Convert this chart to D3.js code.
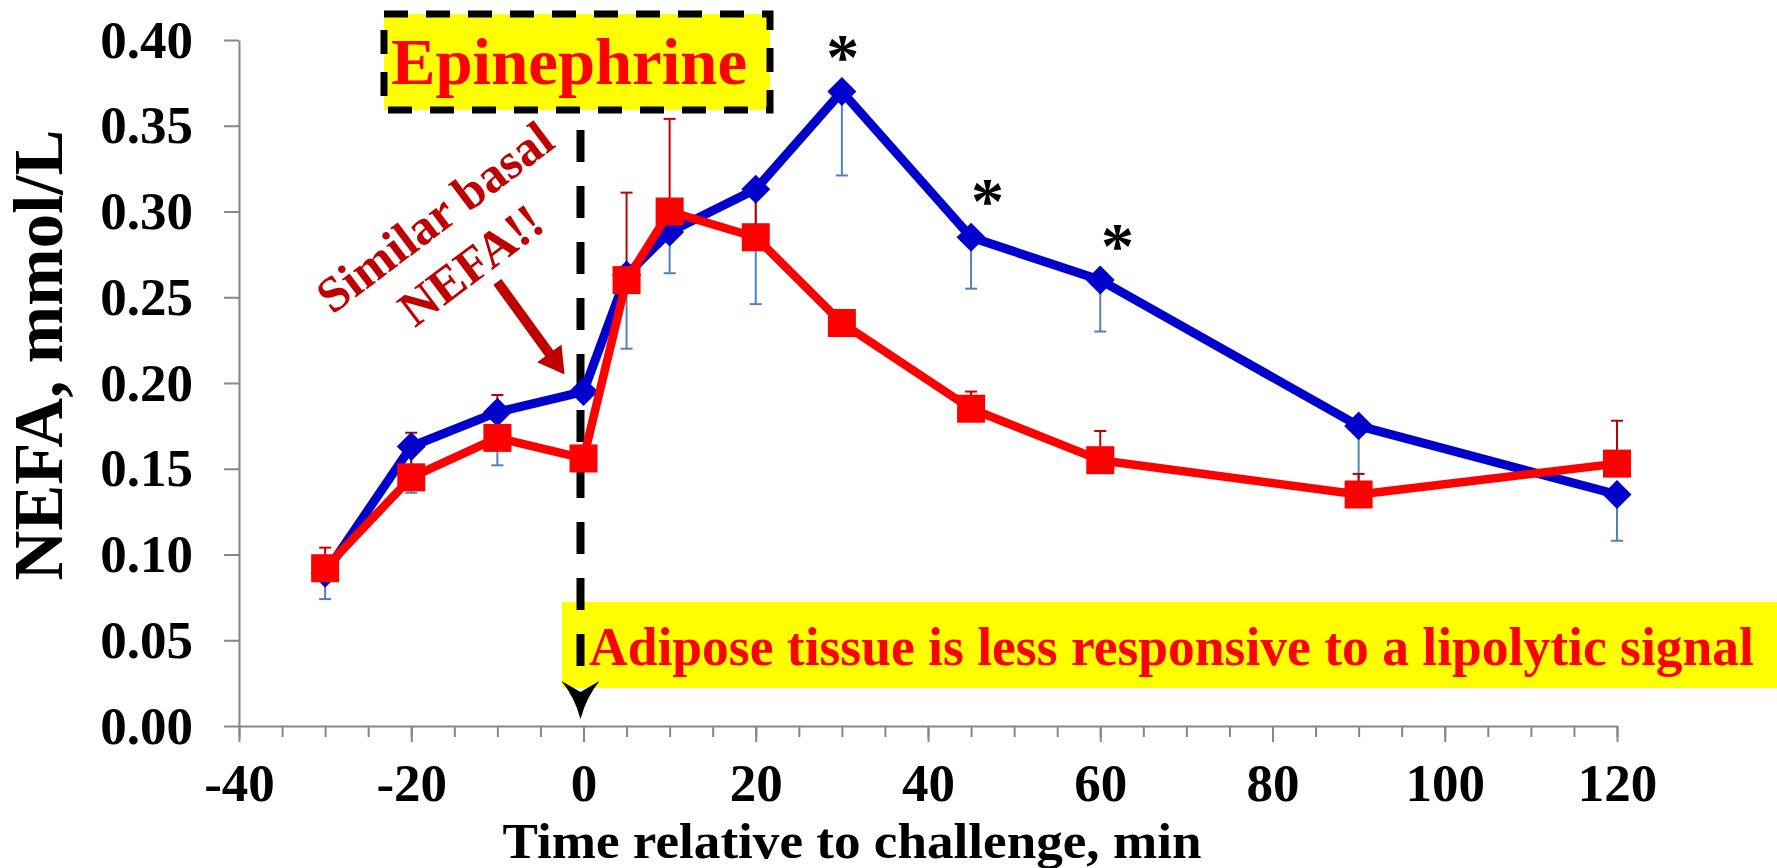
<!DOCTYPE html>
<html>
<head>
<meta charset="utf-8">
<script src="https://cdn.jsdelivr.net/npm/d3@7"></script>
<style>
  body { margin: 0; background: #fff; }
  svg text { font-family: "Liberation Serif", "Times New Roman", serif; font-weight: bold; }
</style>
</head>
<body>
<svg id="chart"></svg>
<script>
// time points (min) and NEFA means / SEs for the two groups
var times = [-30, -20, -10, 0, 5, 10, 20, 30, 45, 60, 90, 120];
var blueVals = [0.089, 0.163, 0.183, 0.195, 0.263, 0.288, 0.313, 0.370, 0.285, 0.260, 0.175, 0.135];
var blueErr  = [0.015, 0.027, 0.031, 0.000, 0.043, 0.024, 0.067, 0.049, 0.030, 0.030, 0.035, 0.027];
var redVals  = [0.092, 0.145, 0.168, 0.156, 0.260, 0.300, 0.285, 0.235, 0.185, 0.155, 0.135, 0.153];
var redErr   = [0.012, 0.026, 0.025, 0.000, 0.051, 0.054, 0.025, 0.000, 0.010, 0.017, 0.012, 0.025];

var yTicks = [0, 0.05, 0.10, 0.15, 0.20, 0.25, 0.30, 0.35, 0.40];
var xTicks = [-40, -20, 0, 20, 40, 60, 80, 100, 120];
var xMinorTicks = d3.range(-40, 121, 5);

// significance stars (time, value where the star sits)
var sigMarks = [{t: 30.1, v: 0.397}, {t: 46.9, v: 0.313}, {t: 62, v: 0.287}];

var width = 1777, height = 868;
var svg = d3.select('#chart')
  .attr('width', width)
  .attr('height', height);

svg.append('rect').attr('width', width).attr('height', height).attr('fill', '#fff');

var x = d3.scaleLinear().domain([-40, 120]).range([239, 1617]);
var y = d3.scaleLinear().domain([0, 0.40]).range([726, 40]);

var axisColor = '#868686';

// y axis
var yAxis = svg.append('g')
  .attr('transform', 'translate(' + x(-40) + ',0)')
  .call(d3.axisLeft(y).tickValues(yTicks).tickSize(15).tickSizeOuter(0)
    .tickFormat(d3.format('.2f')));
yAxis.selectAll('path, line').attr('stroke', axisColor).attr('stroke-width', 2);
yAxis.selectAll('text')
  .attr('x', -46)
  .attr('dy', null)
  .attr('y', 17)
  .attr('fill', '#000')
  .style('font-size', '53px');

// x axis, minor then major ticks
var xMinor = svg.append('g')
  .attr('transform', 'translate(0,' + y(0) + ')')
  .call(d3.axisBottom(x).tickValues(xMinorTicks).tickSize(11).tickSizeOuter(0));
xMinor.selectAll('text').remove();
xMinor.selectAll('path, line').attr('stroke', axisColor).attr('stroke-width', 2);

var xAxis = svg.append('g')
  .attr('transform', 'translate(0,' + y(0) + ')')
  .call(d3.axisBottom(x).tickValues(xTicks).tickSize(16).tickSizeOuter(0)
    .tickFormat(function(d) { return String(d); }));
xAxis.select('.domain').remove();
xAxis.selectAll('line').attr('stroke', axisColor).attr('stroke-width', 2);
xAxis.selectAll('text')
  .attr('y', 75)
  .attr('dy', null)
  .attr('fill', '#000')
  .style('font-size', '53px');

// axis titles
svg.append('text')
  .attr('x', 852).attr('y', 858)
  .attr('text-anchor', 'middle')
  .attr('textLength', 699)
  .attr('lengthAdjust', 'spacingAndGlyphs')
  .style('font-size', '51px')
  .text('Time relative to challenge, min');

svg.append('text')
  .attr('transform', 'translate(62,355) rotate(-90)')
  .attr('text-anchor', 'middle')
  .style('font-size', '69px')
  .text('NEFA, mmol/L');

// bottom annotation box (under the dashed line)
svg.append('rect')
  .attr('x', 562).attr('y', 602)
  .attr('width', width - 562).attr('height', 86)
  .attr('fill', '#ffff00');

// epinephrine dashed line + arrow head
svg.append('line')
  .attr('x1', x(0) - 3).attr('x2', x(0) - 3)
  .attr('y1', 110).attr('y2', 690)
  .attr('stroke', '#000').attr('stroke-width', 8)
  .attr('stroke-dasharray', '32 24')
  .attr('stroke-dashoffset', 36);
svg.append('path')
  .attr('d', 'M' + (x(0) - 3) + ',719 Q' + (x(0) - 9) + ',697 ' + (x(0) - 22) + ',681 L' + (x(0) - 3) + ',692 L' +
    (x(0) + 16) + ',681 Q' + (x(0) + 3) + ',697 ' + (x(0) - 3) + ',719 Z')
  .attr('fill', '#000');

svg.append('text')
  .attr('x', 589).attr('y', 665)
  .attr('fill', '#ff0000')
  .attr('textLength', 1165)
  .attr('lengthAdjust', 'spacingAndGlyphs')
  .style('font-size', '54px')
  .text('Adipose tissue is less responsive to a lipolytic signal');

// epinephrine box
svg.append('rect')
  .attr('x', 384).attr('y', 14)
  .attr('width', 386).attr('height', 96)
  .attr('fill', '#ffff00')
  .attr('stroke', '#000').attr('stroke-width', 7)
  .attr('stroke-dasharray', '24 18');
svg.append('text')
  .attr('x', 569).attr('y', 84)
  .attr('text-anchor', 'middle')
  .attr('fill', '#ff0000')
  .attr('textLength', 356)
  .attr('lengthAdjust', 'spacingAndGlyphs')
  .style('font-size', '66px')
  .text('Epinephrine');

// "Similar basal NEFA!!" note with arrow
var note = svg.append('text')
  .attr('transform', 'translate(452,240) rotate(-37)')
  .attr('text-anchor', 'middle')
  .attr('fill', '#c00000')
  .style('font-size', '50px');
note.append('tspan').attr('x', 0).attr('y', -12).text('Similar basal');
note.append('tspan').attr('x', 0).attr('y', 48).text('NEFA!!');

var tail = [x(-10.0), y(0.259)], tip = [x(-2.2), y(0.205)];
var dx = tip[0] - tail[0], dy = tip[1] - tail[1], len = Math.sqrt(dx * dx + dy * dy);
var ux = dx / len, uy = dy / len, headLen = 26, headW = 15;
var base = [tip[0] - ux * headLen, tip[1] - uy * headLen];
svg.append('line')
  .attr('x1', tail[0]).attr('y1', tail[1])
  .attr('x2', base[0] + ux * 2).attr('y2', base[1] + uy * 2)
  .attr('stroke', '#c00000').attr('stroke-width', 10);
svg.append('path')
  .attr('d', 'M' + tip[0] + ',' + tip[1] +
    ' L' + (base[0] - uy * headW) + ',' + (base[1] + ux * headW) +
    ' L' + (base[0] + uy * headW) + ',' + (base[1] - ux * headW) + ' Z')
  .attr('fill', '#c00000');

// series data
var blue = times.map(function(t, i) { return {t: t, v: blueVals[i], e: blueErr[i]}; });
var red = times.map(function(t, i) { return {t: t, v: redVals[i], e: redErr[i]}; });

function errorBars(data, dir, color) {
  var g = svg.append('g').attr('stroke', color).attr('stroke-width', 2);
  data.filter(function(d) { return d.e > 0; }).forEach(function(d) {
    var yEnd = y(d.v + dir * d.e);
    g.append('line')
      .attr('x1', x(d.t)).attr('x2', x(d.t))
      .attr('y1', y(d.v)).attr('y2', yEnd);
    g.append('line')
      .attr('x1', x(d.t) - 6).attr('x2', x(d.t) + 6)
      .attr('y1', yEnd).attr('y2', yEnd);
  });
}

errorBars(blue, -1, '#4f81bd');
errorBars(red, 1, '#c00000');

var line = d3.line()
  .x(function(d) { return x(d.t); })
  .y(function(d) { return y(d.v); });

svg.append('path')
  .datum(blue)
  .attr('d', line)
  .attr('fill', 'none')
  .attr('stroke', '#0000cc')
  .attr('stroke-width', 9)
  .attr('stroke-linejoin', 'round');
svg.selectAll('.diamond')
  .data(blue)
  .enter().append('path')
  .attr('class', 'diamond')
  .attr('d', d3.symbol().type(d3.symbolSquare).size(420))
  .attr('transform', function(d) { return 'translate(' + x(d.t) + ',' + y(d.v) + ') rotate(45)'; })
  .attr('fill', '#0000cc');

svg.append('path')
  .datum(red)
  .attr('d', line)
  .attr('fill', 'none')
  .attr('stroke', '#ff0000')
  .attr('stroke-width', 8.5)
  .attr('stroke-linejoin', 'round');
svg.selectAll('.square')
  .data(red)
  .enter().append('path')
  .attr('class', 'square')
  .attr('d', d3.symbol().type(d3.symbolSquare).size(784))
  .attr('transform', function(d) { return 'translate(' + x(d.t) + ',' + y(d.v) + ')'; })
  .attr('fill', '#ff0000');

// stars
svg.selectAll('.star')
  .data(sigMarks)
  .enter().append('text')
  .attr('class', 'star')
  .attr('x', function(d) { return x(d.t); })
  .attr('y', function(d) { return y(d.v) + 34; })
  .attr('text-anchor', 'middle')
  .style('font-size', '66px')
  .text('*');
</script>
</body>
</html>
